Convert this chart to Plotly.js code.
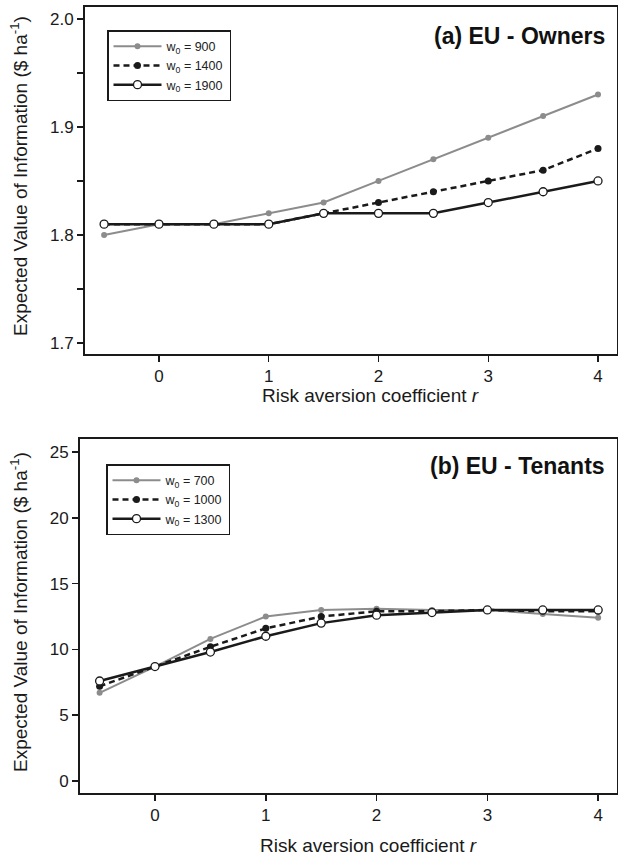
<!DOCTYPE html>
<html>
<head>
<meta charset="utf-8">
<script src="https://cdn.plot.ly/plotly-3.0.1.min.js"></script>
<style>html,body{margin:0;padding:0;background:#fff;}#chart{width:618px;height:857px;}</style>
</head>
<body>
<div id="chart"></div>
<script>
// Risk aversion coefficient r
const riskAversion = [-0.5, 0, 0.5, 1, 1.5, 2, 2.5, 3, 3.5, 4];

// (a) EU - Owners
const ownersLabels = ["w<sub>0</sub> = 900", "w<sub>0</sub> = 1400", "w<sub>0</sub> = 1900"];
const owners900  = [1.80, 1.81, 1.81, 1.82, 1.83, 1.85, 1.87, 1.89, 1.91, 1.93];
const owners1400 = [1.81, 1.81, 1.81, 1.81, 1.82, 1.83, 1.84, 1.85, 1.86, 1.88];
const owners1900 = [1.81, 1.81, 1.81, 1.81, 1.82, 1.82, 1.82, 1.83, 1.84, 1.85];

// (b) EU - Tenants
const tenantsLabels = ["w<sub>0</sub> = 700", "w<sub>0</sub> = 1000", "w<sub>0</sub> = 1300"];
const tenants700  = [6.7, 8.7, 10.8, 12.5, 13.0, 13.1, 13.0, 13.0, 12.7, 12.4];
const tenants1000 = [7.2, 8.7, 10.2, 11.6, 12.5, 12.9, 12.9, 13.0, 12.9, 12.9];
const tenants1300 = [7.6, 8.7, 9.8, 11.0, 12.0, 12.6, 12.8, 13.0, 13.0, 13.0];

const xTickVals = [0, 1, 2, 3, 4];
const ownersTickVals = [1.7, 1.8, 1.9, 2.0];
const tenantsTickVals = [0, 5, 10, 15, 20, 25];

const FONT = "Liberation Sans, Arial, Helvetica, sans-serif";
const GREY = "#8c8c8c";
const DARK = "#1a1a1a";

function styleGrey(){ return {line:{color:GREY, width:2}, marker:{color:GREY, size:6, symbol:"circle"}}; }
function styleDash(){ return {line:{color:DARK, width:2.5, dash:"6px,4px"}, marker:{color:DARK, size:7, symbol:"circle"}}; }
function styleOpen(){ return {line:{color:DARK, width:2.5}, marker:{color:"#ffffff", size:8, symbol:"circle", line:{color:DARK, width:1.3}}}; }

function mk(y, name, st, xa, ya, leg){
  return Object.assign({type:"scatter", mode:"lines+markers", x:riskAversion, y:y, name:name,
    xaxis:xa, yaxis:ya, legend:leg, cliponaxis:false}, st);
}

const data = [
  mk(owners900,  ownersLabels[0], styleGrey(), "x", "y", "legend"),
  mk(owners1400, ownersLabels[1], styleDash(), "x", "y", "legend"),
  mk(owners1900, ownersLabels[2], styleOpen(), "x", "y", "legend"),
  mk(tenants700,  tenantsLabels[0], styleGrey(), "x2", "y2", "legend2"),
  mk(tenants1000, tenantsLabels[1], styleDash(), "x2", "y2", "legend2"),
  mk(tenants1300, tenantsLabels[2], styleOpen(), "x2", "y2", "legend2")
];

const W = 618, H = 857;
const px = v => v / W;
const py = v => 1 - v / H;

const axBase = {
  showgrid:false, zeroline:false, showline:true, mirror:true,
  linecolor:DARK, linewidth:2, ticks:"outside", ticklen:6, tickwidth:1.5, tickcolor:DARK,
  tickfont:{family:FONT, size:17, color:"#1a1a1a"}, fixedrange:true
};

const legBase = {xanchor:"left", yanchor:"top", bgcolor:"#fff",
    bordercolor:DARK, borderwidth:1.5, font:{family:FONT, size:12.5, color:"#222"},
    tracegroupgap:0, itemwidth:48};

const layout = {
  width:W, height:H,
  margin:{l:0, r:0, t:0, b:0},
  paper_bgcolor:"#fff", plot_bgcolor:"#fff",
  font:{family:FONT, color:"#222"},
  xaxis: Object.assign({}, axBase, {domain:[px(85), px(617)], range:[-0.674, 4.173],
    tickvals:xTickVals, anchor:"y"}),
  yaxis: Object.assign({}, axBase, {domain:[py(354), py(7)], range:[1.6898, 2.011],
    tickvals:ownersTickVals, tickformat:".1f", anchor:"x",
    minor:{tickvals:[1.75, 1.85, 1.95], ticks:"outside", ticklen:6, tickwidth:1.5, tickcolor:DARK}}),
  xaxis2: Object.assign({}, axBase, {domain:[px(80), px(617)], range:[-0.677, 4.17],
    tickvals:xTickVals, anchor:"y2"}),
  yaxis2: Object.assign({}, axBase, {domain:[py(793), py(439)], range:[-0.91, 25.99],
    tickvals:tenantsTickVals, anchor:"x2"}),
  legend: Object.assign({}, legBase, {x:px(107), y:py(30)}),
  legend2: Object.assign({}, legBase, {x:px(106), y:py(464)}),
  showlegend:true,
  annotations:[
    {text:"<b>(a) EU - Owners</b>", xref:"paper", yref:"paper", x:px(607), y:py(36),
      xanchor:"right", yanchor:"middle", showarrow:false, font:{family:FONT, size:23, color:"#111"}},
    {text:"<b>(b) EU - Tenants</b>", xref:"paper", yref:"paper", x:px(607), y:py(466),
      xanchor:"right", yanchor:"middle", showarrow:false, font:{family:FONT, size:23, color:"#111"}},
    {text:"Expected Value of Information ($ ha<sup>-1</sup>)", xref:"paper", yref:"paper",
      x:px(19), y:py(176), xanchor:"center", yanchor:"middle", textangle:-90, showarrow:false,
      font:{family:FONT, size:19, color:"#1a1a1a"}},
    {text:"Expected Value of Information ($ ha<sup>-1</sup>)", xref:"paper", yref:"paper",
      x:px(19), y:py(612), xanchor:"center", yanchor:"middle", textangle:-90, showarrow:false,
      font:{family:FONT, size:19, color:"#1a1a1a"}},
    {text:"Risk aversion coefficient <i>r</i>", xref:"paper", yref:"paper",
      x:px(370), y:py(396), xanchor:"center", yanchor:"middle", showarrow:false,
      font:{family:FONT, size:19, color:"#1a1a1a"}},
    {text:"Risk aversion coefficient <i>r</i>", xref:"paper", yref:"paper",
      x:px(368), y:py(845), xanchor:"center", yanchor:"middle", showarrow:false,
      font:{family:FONT, size:19, color:"#1a1a1a"}}
  ]
};

Plotly.newPlot("chart", data, layout, {displayModeBar:false, staticPlot:true});
</script>
</body>
</html>
